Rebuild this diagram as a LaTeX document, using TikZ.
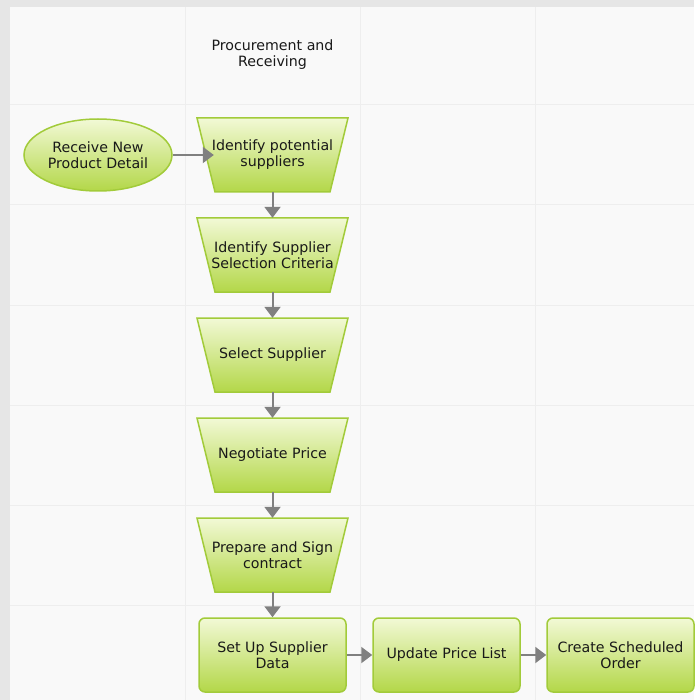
\documentclass[tikz,border=0pt]{standalone}
\usepackage{fontspec}
\setmainfont{DejaVu Sans}
\usetikzlibrary{shapes.geometric,arrows.meta,positioning}
\definecolor{outergray}{HTML}{E6E6E6}
\definecolor{panelgray}{HTML}{F9F9F9}
\definecolor{gridgray}{HTML}{EEEEEE}
\definecolor{lighttop}{HTML}{F2F9D6}
\definecolor{greenbot}{HTML}{B3D748}
\definecolor{greenline}{HTML}{A2CB3A}
\definecolor{arrowgray}{HTML}{808080}
\begin{document}
\begin{tikzpicture}[x=1pt,y=-1pt,
    every node/.style={font=\fontsize{14.2}{16}\selectfont, align=center, text=black!90},
    greenfill/.style={draw=greenline, line width=1.5pt, top color=lighttop, bottom color=greenbot},
    task/.style={rectangle, minimum width=151pt, minimum height=74pt, inner sep=0pt},
    steptask/.style={rectangle, rounded corners=6pt, minimum width=147pt, minimum height=74pt,
      greenfill, inner sep=0pt},
    startev/.style={ellipse, minimum width=148pt, minimum height=72pt, greenfill, inner sep=0pt},
    flow/.style={draw=arrowgray, line width=2pt, -{Triangle[width=16pt,length=11pt]}}]
    \useasboundingbox (0,0) rectangle (694,700);
    % 背景与泳道
    \fill[outergray] (0,0) rectangle (694,700);
    \fill[panelgray] (10,7) rectangle (694,700);
    \foreach \x in {185,360,535}
    \draw[gridgray,line width=1pt] (\x,7) -- (\x,700);
    \foreach \y in {105,205,305,405,505,605}
    \draw[gridgray,line width=1pt] (10,\y) -- (694,\y);
    % 标题
    \node (lane) at (272.5,55) {Procurement and\\Receiving};
    % 开始事件
    \node[startev] (recv) at (98,155) {Receive New\\Product Detail};
    % 采购步骤（倒梯形）
    \foreach \n/\y/\t in {ident/155/{Identify potential\\suppliers},
        crit/255/{Identify Supplier\\Selection Criteria},
        sel/355/{Select Supplier},
        nego/455/{Negotiate Price},
        sign/555/{Prepare and Sign\\contract}} {
      \path[greenfill] (197,\y-37) -- (348,\y-37) -- (330,\y+37) -- (215,\y+37) -- cycle;
      \node[task] (\n) at (272.5,\y) {\t};
    }
    % 后续任务
    \node[steptask] (setup) at (272.5,655) {Set Up Supplier\\Data};
    \node[steptask] (price) at (446.5,655) {Update Price List};
    \node[steptask] (order) at (620.5,655) {Create Scheduled\\Order};
    % 连线
    \draw[flow] (recv.east) -- ([xshift=17pt]ident.west);
    \foreach \a/\b in {ident/crit, crit/sel, sel/nego, nego/sign, sign/setup}
    \draw[flow] (\a.south) -- (\b.north);
    \draw[flow] (setup.east) -- (price.west);
    \draw[flow] (price.east) -- (order.west);
  \end{tikzpicture}
\end{document}
